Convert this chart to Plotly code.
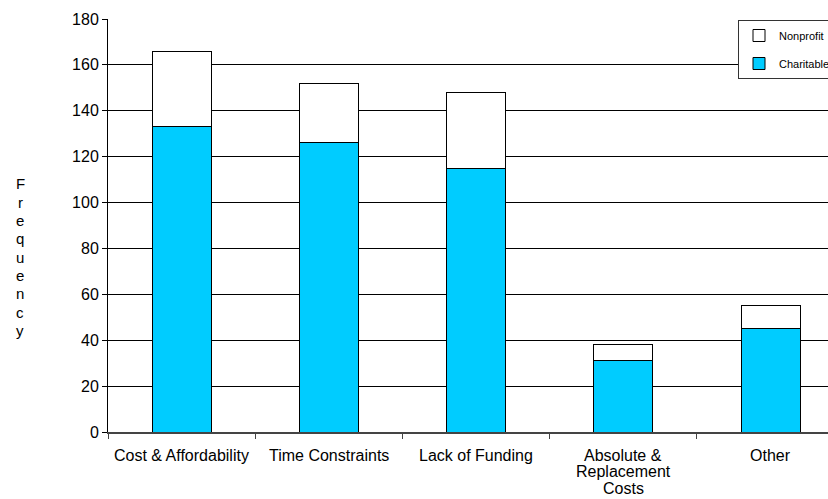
import plotly.graph_objects as go

categories = ["Cost & Affordability", "Time Constraints", "Lack of Funding",
              "Absolute &<br>Replacement<br>Costs", "Other"]
charitable = [133, 126, 115, 31, 45]
nonprofit = [33, 26, 33, 7, 10]
y_ticks = list(range(0, 181, 20))
axis_title = "Frequency"

FONT = "Arial, Liberation Sans, sans-serif"

fig = go.Figure()
fig.add_trace(go.Bar(
    x=categories, y=charitable, name="Charitable",
    marker=dict(color="#00CCFF", line=dict(color="#000000", width=1)),
    width=0.4, legendgroup="c", legendrank=2,
))
fig.add_trace(go.Bar(
    x=categories, y=nonprofit, name="Nonprofit",
    marker=dict(color="#FFFFFF", line=dict(color="#000000", width=1)),
    width=0.4, legendgroup="n", legendrank=1,
))

W, H = 828, 499
ml, mt, mb, mr = 108, 19, 67, 0
plot_w = W - ml - mr
plot_h = H - mt - mb

fig.update_layout(
    width=W, height=H,
    barmode="stack",
    plot_bgcolor="#FFFFFF", paper_bgcolor="#FFFFFF",
    margin=dict(l=ml, r=mr, t=mt, b=mb, pad=0, autoexpand=False),
    font=dict(family=FONT, size=16, color="#000000"),
    showlegend=True,
    legend=dict(
        x=(738 - ml) / plot_w, y=(H - mb - 20) / plot_h,
        xanchor="left", yanchor="top",
        traceorder="grouped", tracegroupgap=9,
        bordercolor="#333333", borderwidth=1, bgcolor="#FFFFFF",
        font=dict(family=FONT, size=11),
    ),
    xaxis=dict(
        type="category",
        range=[-0.5, len(categories) - 0.61],
        showline=True, linecolor="#444444", linewidth=2,
        ticks="outside", tickson="boundaries", ticklen=5, tickcolor="#444444",
        showgrid=False, showticklabels=False,
    ),
    yaxis=dict(
        range=[0, 180], tickvals=y_ticks,
        showline=True, linecolor="#000000", linewidth=1,
        ticks="outside", ticklen=5, tickcolor="#000000",
        showgrid=True, gridcolor="#000000", gridwidth=1,
        zeroline=False,
        tickfont=dict(family=FONT, size=16),
    ),
    bargap=0.6,
)

# Category labels with tight line spacing
for cat in categories:
    for j, line in enumerate(cat.split("<br>")):
        fig.add_annotation(
            text=line, xref="x", yref="paper", x=cat, y=0,
            yshift=-(23 + 16.5 * j), xanchor="center", yanchor="middle",
            showarrow=False, font=dict(family=FONT, size=16),
        )

# Vertical, letter-per-line axis title
top_px, step_px = 184, 18.3
for i, ch in enumerate(axis_title):
    ypx = top_px + i * step_px
    fig.add_annotation(
        text=ch, xref="paper", yref="paper",
        x=(20 - ml) / plot_w, y=(H - mb - ypx) / plot_h,
        xanchor="center", yanchor="middle", showarrow=False,
        font=dict(family=FONT, size=15),
    )

fig.write_html("out.html")
